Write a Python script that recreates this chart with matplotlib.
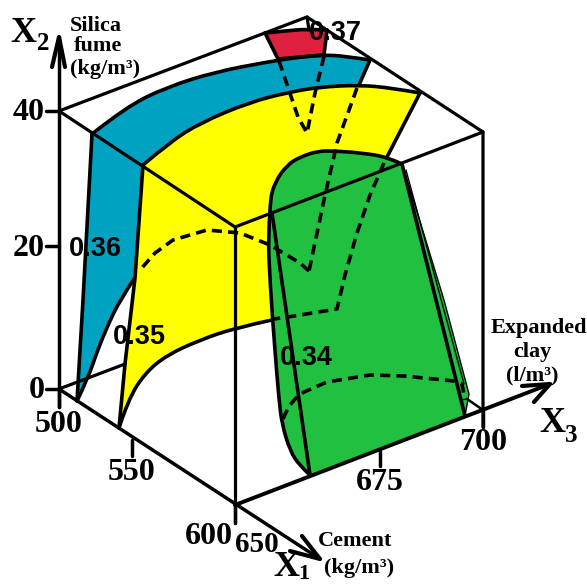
import matplotlib
matplotlib.use("Agg")
import matplotlib.pyplot as plt
from matplotlib.path import Path
from matplotlib.patches import PathPatch

BLACK = "#000000"
BLUE = "#00A2C2"
YELLOW = "#FFFF00"
GREEN = "#22C040"
RED = "#E0203F"

# cube corners
origin = (59, 389)
top_left = (59, 111)
front = (235, 505)
front_top = (235, 227)
right = (483, 410)
right_top = (483, 132)
back_top = (307, 17)

# axis arrows
x2_tip, x2_barbs = (59, 37), [(52, 67), (65, 67)]
x1_tip, x1_barbs = (320, 559), [(302, 536), (290, 551)]
x3_tip, x3_barbs = (550, 384), [(522, 386), (534, 402)]

# tick marks
x2_ticks = [(111, "40", 29, 113), (246, "20", 29, 248), (389, "0", 37, 391)]
x1_ticks = [(59, 389, 407, "500", 59, 425), (132, 440, 456, "550", 132, 473), (235, 505, 523, "600", 209, 536)]
x3_ticks = [(380, 451, 466, "675", 380, 483), (483, 410, 427, "700", 483, 443)]

# surface edges
blue_top = [(92, 134), (126, 107), (167, 87), (215, 72), (267, 62), (300, 57), (324, 55), (344, 56), (370, 60)]
blue_low = [(143, 165), (170, 142), (200, 123), (250, 102), (290, 92), (320, 87), (359, 85), (392, 88), (420, 93)]
blue_curve = [(134, 279), (120, 300), (107, 327), (97, 352), (88, 378), (77, 401)]
blue_left = [(92, 134), (83, 300), (77, 401)]
yellow_left = [(143, 165), (135, 278), (125, 364), (119, 428)]
yellow_right = [(420, 93), (387, 157)]
yellow_curve = [(119, 428), (128, 400), (145, 373), (167, 355), (200, 340), (235, 328), (272, 320)]
green_top = [(270, 213), (270, 200), (275, 182), (287, 165), (300, 157), (318, 151), (335, 151), (362, 153), (387, 157), (402, 164)]
green_left = [(270, 213), (268, 233), (270, 283), (275, 351), (279, 400), (282, 424), (290, 451), (300, 466), (310, 475)]
green_right = [(402, 164), (415, 205), (444, 300), (469, 394), (465, 416)]
red_top = [(265, 33), (285, 31), (307, 29), (327, 30)]
red_side = [(327, 30), (324, 55)]
red_left = [(265, 33), (278, 59)]
red_low = [(278, 59), (300, 57), (324, 55)]
green_line1 = [(402, 164), (465, 416)]
green_line2 = [(272, 213), (310, 475)]
green_thin = [(406, 170), (464, 384)]

# hidden lines
dash_v = [(279, 61), (298, 117), (307, 133), (315, 93), (324, 56)]
dash_mid = [(357, 88), (337, 143), (324, 200), (309, 271)]
dash_mid2 = [(309, 271), (300, 263), (270, 245), (240, 233), (207, 230), (173, 240), (155, 253), (140, 270)]
dash_low = [(384, 163), (370, 195), (357, 233), (345, 275), (337, 309), (294, 316), (274, 319)]
dash_bottom = [(283, 419), (289, 406), (297, 397), (304, 392), (327, 382), (370, 375), (404, 376), (454, 381), (462, 384), (465, 400)]

# contour labels
contours = [("0.37", 335, 33), ("0.36", 95, 249), ("0.35", 139, 337), ("0.34", 306, 358)]


def smooth(ax, pts, **kw):
    # quadratic spline through the read points, first and last stay put
    verts = [pts[0]]
    codes = [Path.MOVETO]
    for i in range(1, len(pts) - 1):
        verts.append(pts[i])
        codes.append(Path.CURVE3)
        if i < len(pts) - 2:
            verts.append(((pts[i][0] + pts[i + 1][0]) / 2, (pts[i][1] + pts[i + 1][1]) / 2))
        else:
            verts.append(pts[-1])
        codes.append(Path.CURVE3)
    ax.add_patch(PathPatch(Path(verts, codes), fill=False, edgecolor=BLACK, capstyle="round", **kw))


def line(ax, pts, lw=2.5, **kw):
    ax.plot([p[0] for p in pts], [p[1] for p in pts], color=BLACK, lw=lw, solid_capstyle="round", solid_joinstyle="round", **kw)


def fill(ax, pts, color):
    ax.fill([p[0] for p in pts], [p[1] for p in pts], color=color, lw=0)


fig = plt.figure(figsize=(5.87, 5.84), dpi=100)
ax = fig.add_axes([0, 0, 1, 1])
ax.set_xlim(0, 587)
ax.set_ylim(584, 0)
ax.axis("off")

fill(ax, red_top + red_low[::-1], RED)
fill(ax, blue_top + blue_low[:7][::-1] + blue_curve + blue_left[::-1], BLUE)
fill(ax, blue_low + yellow_right[1:] + green_top[::-1][2:] + [(272, 320)] + yellow_curve[::-1] + yellow_left[::-1][1:], YELLOW)
fill(ax, green_top + green_right[1:] + green_left[::-1], GREEN)

# cube
line(ax, [x2_tip, origin, (59, 407)])
line(ax, [top_left, back_top, right_top, right, (483, 427)], lw=2.3)
line(ax, [top_left, front_top, right_top], lw=2.3)
line(ax, [front_top, front, (235, 523)], lw=2.3)
line(ax, [origin, x1_tip])
line(ax, [front, x3_tip], lw=2.8)
line(ax, [origin, (125, 364)], lw=2.3)
line(ax, [(467, 399), right], lw=1.8)

# arrow heads
for tip, barbs in [(x2_tip, x2_barbs), (x1_tip, x1_barbs), (x3_tip, x3_barbs)]:
    line(ax, [barbs[0], tip, barbs[1]], lw=3.0)

# surface outlines
for edge in [blue_top, blue_low, blue_curve, yellow_curve, green_top, green_left, red_top, red_low]:
    smooth(ax, edge, lw=2.6)
for edge in [blue_left, yellow_left, yellow_right, [blue_top[-1], blue_low[6]], red_left, red_side,
             green_line1, green_line2]:
    line(ax, edge, lw=2.6)
line(ax, green_thin, lw=1.0)
line(ax, green_right, lw=1.0)
line(ax, [back_top, (309, 30)], lw=2.3)

# hidden lines
for edge in [dash_v, dash_mid, dash_mid2, dash_low, dash_bottom]:
    line(ax, edge, lw=2.6, linestyle=(0, (2.8, 1.7)))

# ticks and their labels
serif = {"family": "Liberation Serif", "weight": "bold", "color": BLACK, "ha": "center", "va": "center"}
for y, lab, tx, ty in x2_ticks:
    line(ax, [(46, y), (59, y)])
    ax.text(tx, ty, lab, fontsize=23, **serif)
for x, y0, y1, lab, tx, ty in x1_ticks + x3_ticks:
    line(ax, [(x, y0), (x, y1)])
    ax.text(tx, ty, lab, fontsize=23, **serif)
ax.text(257, 545, "650", fontsize=21, **serif)

# axis names
ax.text(23, 34, "X", fontsize=26, **serif)
ax.text(43, 44, "2", fontsize=18, **serif)
ax.text(286, 568, "X", fontsize=26, **serif)
ax.text(304, 574, "1", fontsize=16, **serif)
ax.text(552, 424, "X", fontsize=26, **serif)
ax.text(571, 435, "3", fontsize=18, **serif)
for s, x, y in [("Silica", 96, 26), ("fume", 98, 46), ("(kg/m³)", 105, 69),
                ("Expanded", 539, 328), ("clay", 532, 352), ("(l/m³)", 532, 375),
                ("Cement", 355, 541), ("(kg/m³)", 359, 568)]:
    ax.text(x, y, s, fontsize=16, **serif)

for s, x, y in contours:
    ax.text(x, y, s, fontsize=19.5, family="Liberation Sans", weight="bold", color=BLACK, ha="center", va="center")

fig.savefig("out.png", dpi=100)
plt.close(fig)
